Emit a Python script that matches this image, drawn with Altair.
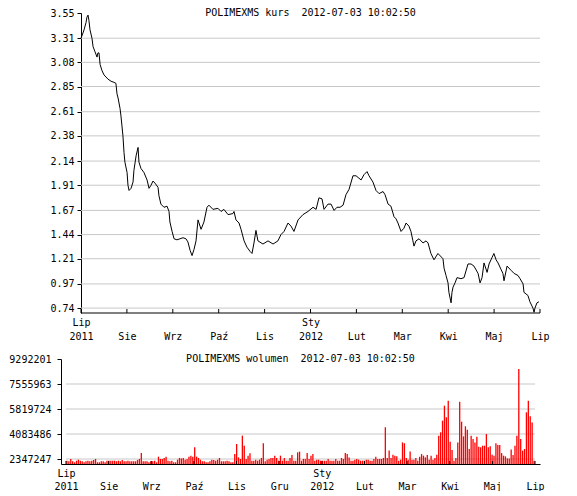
import altair as alt
import pandas as pd

FONT = "DejaVu Sans Mono"
FS = 10

# ---------------- data ----------------
# price chart: trading session index (0 = start of July 2011) and price
session = [0, 1.1, 1.7, 2.8, 3.3, 3.9, 4.4, 5.0, 6.1, 6.7,
           7.8, 8.9, 9.4, 10.0, 10.6, 11.7, 12.8, 15.0, 16.7, 18.3,
           19.4, 20.0, 20.6, 21.7, 22.2, 23.3, 23.9, 24.4, 25.6, 26.1,
           26.7, 27.8, 28.9, 29.4, 30.6, 31.7, 32.2, 33.3, 35.0, 36.7,
           37.8, 38.9, 40.0, 41.1, 42.8, 43.3, 44.4, 46.1, 47.8, 48.9,
           49.4, 50.6, 51.7, 53.3, 55.0, 56.7, 58.3, 59.4, 60.6, 61.7,
           62.8, 63.9, 65.0, 66.7, 68.3, 70.0, 71.1, 73.3, 76.1, 77.8,
           79.4, 81.7, 84.4, 85.0, 86.1, 87.8, 88.9, 90.6, 92.2, 93.9,
           95.0, 96.1, 97.2, 98.3, 101.1, 103.9, 106.7, 109.4, 111.1, 112.8,
           115.0, 116.7, 118.3, 120.6, 123.3, 126.1, 128.9, 130.6, 132.2, 133.9,
           135.0, 137.2, 138.9, 140.6, 142.2, 143.9, 145.6, 147.2, 148.9, 151.1,
           152.8, 155.6, 157.2, 158.9, 160.0, 162.2, 163.9, 165.6, 167.8, 168.9,
           170.6, 172.2, 173.9, 175.0, 176.1, 177.8, 179.4, 180.6, 182.2, 183.3,
           184.4, 185.0, 186.1, 187.8, 190.0, 191.7, 192.8, 194.4, 196.1, 198.3,
           201.1, 201.7, 202.8, 203.9, 204.4, 205.6, 206.1, 206.7, 207.8, 208.9,
           211.1, 212.8, 215.0, 216.7, 218.3, 220.6, 221.7, 222.8, 223.9, 225.6,
           226.7, 228.3, 229.4, 230.6, 231.7, 233.3, 234.4, 235.0, 236.7, 238.9,
           240.6, 242.8, 243.9, 245.6, 246.1, 248.3, 249.4, 251.1, 251.7, 252.2,
           253.3, 254.4]

price = [3.31, 3.36, 3.39, 3.46, 3.51, 3.53, 3.48, 3.39, 3.31, 3.23,
         3.18, 3.13, 3.17, 3.17, 3.06, 3.00, 2.96, 2.92, 2.90, 2.89,
         2.88, 2.78, 2.74, 2.64, 2.57, 2.38, 2.22, 2.13, 2.03, 1.91,
         1.86, 1.88, 1.94, 2.05, 2.19, 2.27, 2.13, 2.07, 2.03, 1.96,
         1.88, 1.91, 1.95, 1.93, 1.89, 1.81, 1.73, 1.70, 1.71, 1.66,
         1.56, 1.47, 1.40, 1.39, 1.40, 1.41, 1.40, 1.37, 1.29, 1.24,
         1.30, 1.38, 1.58, 1.49, 1.56, 1.70, 1.72, 1.68, 1.69, 1.66,
         1.68, 1.63, 1.64, 1.66, 1.58, 1.55, 1.49, 1.38, 1.32, 1.28,
         1.26, 1.36, 1.48, 1.38, 1.35, 1.38, 1.35, 1.38, 1.44, 1.47,
         1.55, 1.52, 1.47, 1.58, 1.63, 1.66, 1.70, 1.68, 1.79, 1.78,
         1.68, 1.73, 1.73, 1.67, 1.70, 1.70, 1.72, 1.82, 1.87, 2.00,
         2.00, 1.96, 2.01, 2.04, 2.00, 1.94, 1.86, 1.83, 1.85, 1.82,
         1.73, 1.71, 1.61, 1.59, 1.55, 1.47, 1.50, 1.55, 1.52, 1.47,
         1.38, 1.33, 1.38, 1.40, 1.36, 1.38, 1.36, 1.26, 1.20, 1.26,
         1.21, 1.12, 1.05, 0.98, 0.89, 0.79, 0.89, 0.94, 0.98, 1.03,
         1.02, 1.03, 1.16, 1.16, 1.14, 1.07, 0.98, 1.03, 1.17, 1.08,
         1.16, 1.22, 1.26, 1.20, 1.17, 1.11, 1.07, 1.00, 1.14, 1.10,
         1.07, 1.05, 1.02, 0.97, 0.89, 0.86, 0.80, 0.74, 0.70, 0.74,
         0.79, 0.80]

# volume per session, millions of shares
volume_mln = [2.23, 2.19, 2.35, 2.19, 2.12, 2.23, 2.30, 2.23, 2.19, 2.12,
              2.19, 2.23, 2.19, 2.23, 2.28, 2.35, 2.12, 2.12, 2.19, 2.19,
              2.12, 2.23, 2.23, 2.23, 2.23, 2.23, 2.19, 2.23, 2.19, 2.28,
              2.19, 2.19, 2.23, 2.19, 2.19, 2.19, 2.19, 2.28, 2.35, 2.76,
              2.19, 2.19, 2.19, 2.12, 2.19, 2.19, 2.23, 2.12, 2.51, 2.35,
              2.35, 2.42, 2.51, 2.23, 2.19, 2.23, 2.12, 2.12, 2.30, 2.42,
              2.39, 2.42, 2.30, 2.35, 2.51, 2.58, 2.51, 3.16, 2.51, 2.42,
              2.30, 2.19, 2.19, 2.12, 2.12, 2.19, 2.30, 2.28, 2.23, 2.30,
              2.42, 2.19, 2.19, 2.19, 2.23, 2.19, 2.12, 2.12, 2.69, 3.39,
              2.46, 2.35, 3.97, 3.27, 2.35, 2.58, 2.74, 2.23, 2.23, 2.30,
              2.23, 2.30, 2.42, 3.44, 2.19, 2.30, 2.35, 2.42, 2.42, 2.58,
              2.42, 2.23,
              2.58, 2.23, 2.42, 2.23, 2.23, 2.42, 2.63, 2.23, 2.23, 2.81,
              2.86, 2.23, 2.35, 2.35, 2.76, 2.35, 2.58, 2.69, 2.23, 2.30,
              2.30, 2.23, 2.23, 2.23, 2.23, 2.35, 2.23, 2.23, 2.23, 2.35,
              2.23, 2.23, 2.42, 2.35, 2.76, 2.69, 2.46, 2.23, 2.23, 2.30,
              2.35, 2.30, 2.23, 2.23, 2.23, 2.30, 2.30, 2.23, 2.23, 2.35,
              2.51, 2.35, 2.35, 2.35, 2.42, 4.55, 2.42, 2.93, 2.42, 2.65,
              2.58, 2.53, 2.23, 2.30, 3.50, 3.44, 2.42, 2.30, 2.86, 2.30,
              2.30, 2.42, 2.23, 2.51, 2.69, 2.58, 2.46, 2.63, 2.30, 2.58,
              2.30, 2.42, 2.65, 3.97, 4.20, 5.01, 6.05, 5.24, 6.40, 3.55,
              2.97, 2.23, 2.42, 3.50, 6.33, 4.94, 3.92, 4.62, 4.38, 3.04,
              3.97, 3.74, 3.50, 3.90, 3.20, 3.16, 3.27, 3.27, 4.08, 3.16,
              3.23, 2.65, 2.58, 3.44, 3.32, 3.32, 2.76, 2.58, 2.53, 2.39,
              2.39, 3.00, 2.63, 3.27, 3.97, 8.60, 3.74, 2.93, 3.04, 5.59,
              6.40, 5.31, 4.89, 2.23]

price_ticks = [0.74, 0.97, 1.21, 1.44, 1.67, 1.91, 2.14, 2.38, 2.61, 2.85, 3.08, 3.31, 3.55]
volume_ticks = [2347247, 4083486, 5819724, 7555963, 9292201]

price_x_ticks = [0, 25.5, 51, 76.5, 102, 127.5, 153, 178.5, 204, 229.5, 255]
price_x_labels = [["Lip", "2011"], [" ", "Sie"], [" ", "Wrz"], [" ", "Paź"], [" ", "Lis"],
                  ["Sty", "2012"], [" ", "Lut"], [" ", "Mar"], [" ", "Kwi"], [" ", "Maj"], [" ", "Lip"]]
vol_x_ticks = [-0.5, 21.864, 44.227, 66.591, 88.955, 111.318, 133.682, 156.045,
               178.409, 200.773, 223.136, 245.5]
vol_x_labels = [["Lip", "2011"], [" ", "Sie"], [" ", "Wrz"], [" ", "Paź"], [" ", "Lis"], [" ", "Gru"],
                ["Sty", "2012"], [" ", "Lut"], [" ", "Mar"], [" ", "Kwi"], [" ", "Maj"], [" ", "Lip"]]

title_price = "POLIMEXMS kurs\u00a0 2012-07-03 10:02:50"
title_volume = "POLIMEXMS wolumen\u00a0 2012-07-03 10:02:50"

# ---------------- layout ----------------
W = 479          # common plot width (bottom plot)
OFF = 20         # top plot starts 20px to the right of the bottom one
H_TOP = 300
H_BOT = 105
P_MIN, P_MAX = 0.6932, 3.55
V_MIN, V_MAX = 2000000, 9292201
GRID = "#c8c8c8"


def label_expr(ticks, labels):
    expr = "''"
    for t, lines in reversed(list(zip(ticks, labels))):
        arr = "[" + ", ".join("'" + s + "'" for s in lines) + "]"
        expr = f"abs(datum.value - ({t})) < 0.01 ? {arr} : {expr}"
    return expr


axis_text = dict(labelFont=FONT, labelFontSize=FS, labelColor="black", title=None)

# ---------- top: price ----------
xs1 = alt.Scale(domain=[0, 255], range=[OFF, W], nice=False, zero=False)
ys1 = alt.Scale(domain=[P_MIN, P_MAX], nice=False, zero=False)
x_axis1 = alt.Axis(values=price_x_ticks, labelExpr=label_expr(price_x_ticks, price_x_labels),
                   ticks=False, domain=False, grid=False, labelPadding=4, labelLineHeight=14,
                   labelAngle=0, labelOverlap=False, labelFlush=False, **axis_text)
y_axis1 = alt.Axis(values=price_ticks, format=".2f", offset=-OFF, ticks=True, tickSize=4,
                   tickColor="black", domain=True, domainColor="black", grid=False,
                   labelPadding=3, labelOverlap=False, labelFlush=False, **axis_text)

price_df = pd.DataFrame({"t": session, "p": price})
pgrid_df = pd.DataFrame({"p": price_ticks[:-1]})
ptick_df = pd.DataFrame({"t": price_x_ticks})
ptitle_df = pd.DataFrame({"label": [title_price]})

p_grid = alt.Chart(pgrid_df).mark_rule(color=GRID, strokeWidth=1).encode(
    y=alt.Y("p:Q", scale=ys1, axis=y_axis1),
    x=alt.XDatum(0, type="quantitative", scale=xs1, axis=x_axis1),
    x2=alt.X2Datum(255),
)

p_line = alt.Chart(price_df).mark_line(color="black", strokeWidth=1).encode(
    x=alt.X("t:Q", scale=xs1, axis=x_axis1),
    y=alt.Y("p:Q", scale=ys1, axis=y_axis1),
)

p_xline = alt.Chart(ptitle_df).mark_rule(color="black").encode(
    x=alt.XDatum(0, type="quantitative", scale=xs1, axis=x_axis1),
    x2=alt.X2Datum(255),
    y=alt.value(H_TOP),
)

p_ticks = alt.Chart(ptick_df).mark_rule(color="black").encode(
    x=alt.X("t:Q", scale=xs1, axis=x_axis1),
    y=alt.value(H_TOP - 4),
    y2=alt.value(H_TOP),
)

p_title = alt.Chart(ptitle_df).mark_text(
    font=FONT, fontSize=FS, color="black", baseline="middle", align="center"
).encode(text="label:N", x=alt.value(OFF + (W - OFF) / 2), y=alt.value(0))

top = alt.layer(p_grid, p_line, p_xline, p_ticks, p_title).properties(width=W, height=H_TOP)

# ---------- bottom: volume ----------
xs2 = alt.Scale(domain=[-0.5, 245.5], nice=False, zero=False)
ys2 = alt.Scale(domain=[V_MIN, V_MAX], nice=False, zero=False)
x_axis2 = alt.Axis(values=vol_x_ticks, labelExpr=label_expr(vol_x_ticks, vol_x_labels),
                   ticks=False, domain=True, domainColor="black", grid=False, labelPadding=4,
                   labelLineHeight=13, labelAngle=0, labelOverlap=False, labelFlush=False,
                   zindex=1, **axis_text)
y_axis2 = alt.Axis(values=volume_ticks, format="d", ticks=True, tickSize=4, tickColor="black",
                   domain=True, domainColor="black", grid=False, labelPadding=6,
                   labelOverlap=False, labelFlush=False, zindex=1, **axis_text)

vol_df = pd.DataFrame({"i": list(range(len(volume_mln))),
                       "vol": [v * 1e6 for v in volume_mln]})
vgrid_df = pd.DataFrame({"vol": volume_ticks[:-1]})
vtick_df = pd.DataFrame({"i": vol_x_ticks})
vtitle_df = pd.DataFrame({"label": [title_volume]})

v_grid = alt.Chart(vgrid_df).mark_rule(color=GRID, strokeWidth=1).encode(
    y=alt.Y("vol:Q", scale=ys2, axis=y_axis2),
    x=alt.XDatum(-0.5, type="quantitative", scale=xs2, axis=x_axis2),
    x2=alt.X2Datum(245.5),
)

v_bars = alt.Chart(vol_df).mark_bar(color="#ff0000", size=1.3).encode(
    x=alt.X("i:Q", scale=xs2, axis=x_axis2),
    y=alt.Y("vol:Q", scale=ys2, axis=y_axis2),
    y2=alt.Y2Datum(V_MIN),
)

v_ticks = alt.Chart(vtick_df).mark_rule(color="black").encode(
    x=alt.X("i:Q", scale=xs2, axis=x_axis2),
    y=alt.value(H_BOT - 3),
    y2=alt.value(H_BOT),
)

v_title = alt.Chart(vtitle_df).mark_text(
    font=FONT, fontSize=FS, color="black", baseline="middle", align="center"
).encode(text="label:N", x=alt.value(W / 2), y=alt.value(0))

bottom = alt.layer(v_grid, v_bars, v_ticks, v_title).properties(width=W, height=H_BOT)

chart = alt.vconcat(top, bottom, spacing=13).properties(
    padding={"left": 0, "top": 0, "right": 0, "bottom": 0},
    background="white",
).configure_view(stroke=None)

chart.save("out.html", embed_options={"renderer": "svg", "actions": False})
